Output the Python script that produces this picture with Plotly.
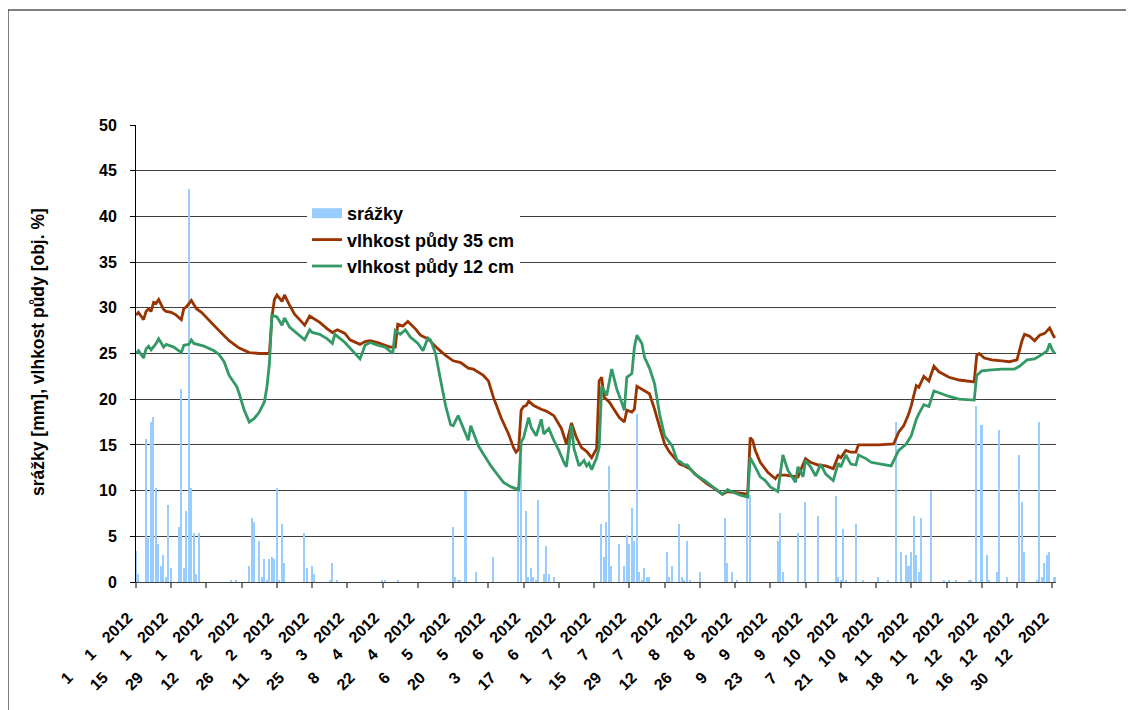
import datetime as dt
import plotly.graph_objects as go

# ---------------- data ----------------
# day index: 0 = 1 Jan 2012
rain_days = [0, 1, 4, 5, 6, 7, 8, 9, 10, 11, 12, 13, 14, 17, 18, 19, 20, 21, 22, 23, 24, 25,
             38, 40, 45, 46, 47, 49, 50, 51, 52, 53, 54, 55, 56, 57, 58, 59,
             67, 68, 70, 71, 77, 78, 80, 98, 99, 104,
             126, 127, 128, 129, 131, 135, 142, 152, 153, 155, 156, 157, 158, 159, 160, 162, 163, 164, 166,
             185, 186, 187, 188, 189, 192, 194, 195, 196, 197, 198, 199, 200, 201, 202, 203, 204,
             211, 212, 213, 216, 217, 218, 219, 220, 224, 234, 235, 237, 239, 243, 244,
             255, 256, 257, 263, 266, 271, 278, 279, 280, 281, 282, 286, 289, 295, 299,
             302, 304, 306, 307, 308, 309, 310, 311, 312, 316, 321, 323, 326, 331, 332,
             334, 336, 338, 339, 342, 343, 346, 351, 352, 353, 358, 359, 360, 361, 362, 363, 365]
rain_mm = [3.4, 0.9, 15.6, 4.8, 17.5, 18.0, 10.3, 4.2, 1.8, 3.0, 0.6, 8.4, 1.5, 6.0, 21.1, 1.5, 7.8, 43.0, 10.3, 5.4, 0.9, 5.4,
           0.25, 0.25, 1.8, 7.0, 6.6, 4.5, 0.6, 2.5, 0.25, 2.5, 2.7, 2.5, 10.3, 0.25, 6.3, 2.1,
           5.4, 1.5, 1.8, 0.9, 0.25, 2.1, 0.25, 0.25, 0.25, 0.25,
           6.0, 0.6, 0.25, 0.25, 10.0, 1.1, 2.7, 10.5, 13.5, 7.8, 0.6, 1.5, 0.6, 0.25, 9.0, 0.9, 3.9, 0.9, 0.6,
           6.3, 2.7, 6.6, 12.7, 1.8, 4.2, 1.8, 5.1, 4.2, 8.1, 4.5, 18.4, 1.1, 0.25, 1.5, 0.6, 0.6,
           3.3, 0.6, 1.8, 6.3, 0.6, 0.25, 4.5, 0.25, 1.1, 7.0, 2.1, 1.1, 0.25, 9.9, 9.5,
           4.5, 7.5, 1.1, 5.4, 8.7, 7.2, 9.4, 0.6, 0.25, 5.8, 0.25, 6.3, 0.25, 0.6, 0.25,
           17.5, 3.3, 3.0, 1.8, 3.3, 7.2, 3.0, 1.1, 7.0, 10.0, 0.25, 0.25, 0.25, 0.25, 0.25,
           19.3, 17.2, 3.0, 0.25, 1.1, 16.6, 0.6, 13.9, 8.7, 3.3, 0.25, 17.5, 0.6, 2.1, 3.0, 3.3, 0.6]

soil35_days = [0, 1, 3, 4, 5, 6, 7, 8, 9, 11, 12, 14, 16, 18, 19, 20, 22, 23, 24, 26, 29, 33, 37, 41, 45, 49,
               53, 54, 55, 56, 58, 59, 61, 63, 66, 67, 69, 70, 73, 76, 78, 80, 83, 85, 89, 91, 93, 96, 101,
               103, 104, 106, 108, 111, 113, 116, 120, 123, 126, 129, 132, 134, 138, 140, 142, 145, 148, 150,
               151, 152, 153, 154, 155, 156, 158, 161, 163, 166, 169, 171, 173, 175, 177, 179, 181, 183, 184,
               185, 186, 188, 190, 192, 194, 195, 197, 198, 199, 201, 204, 206, 208, 210, 212, 214, 216, 218,
               220, 223, 227, 230, 233, 235, 238, 242, 243, 244, 245, 246, 248, 251, 254, 255, 258, 260, 263,
               264, 266, 268, 271, 274, 277, 279, 280, 282, 284, 286, 287, 291, 295, 301, 303, 305, 307, 308,
               310, 311, 313, 315, 317, 319, 323, 327, 331, 333, 334, 335, 337, 340, 344, 347, 350, 352, 353,
               355, 357, 359, 361, 363, 364, 365]
soil35_val = [29.2, 29.5, 28.7, 29.6, 29.9, 29.6, 30.6, 30.5, 30.9, 29.8, 29.6, 29.5, 29.2, 28.7, 29.9, 30.1, 30.8,
              30.4, 29.9, 29.5, 28.6, 27.5, 26.4, 25.6, 25.1, 25.0,
              25.0, 29.0, 30.9, 31.4, 30.7, 31.4, 30.3, 29.3, 28.4, 28.1, 29.1, 28.9, 28.4, 27.7, 27.3, 27.6,
              27.2, 26.5, 26.0, 26.3, 26.4, 26.2, 25.7,
              25.7, 28.2, 28.0, 28.5, 27.7, 27.0, 26.6, 25.5, 24.8, 24.2, 24.0, 23.4, 23.3, 22.6, 22.0, 20.2,
              18.0, 16.2, 14.7,
              14.2, 14.5, 18.8, 19.2, 19.3, 19.8, 19.3, 18.9, 18.7, 18.2, 16.8, 15.1, 17.4, 15.8, 14.7, 14.3,
              13.6, 14.6, 22.0,
              22.4, 20.2, 19.7, 18.9, 18.0, 17.5, 18.8, 18.6, 18.9, 21.4, 21.1, 20.6, 18.9, 16.9, 15.1, 14.2,
              13.6, 12.9, 12.7,
              12.4, 11.6, 10.7, 10.2, 9.6, 9.9, 9.8, 9.7, 9.6, 15.8, 15.5, 14.4, 13.1, 12.0, 11.3, 11.7, 11.7,
              11.6, 11.5,
              12.2, 13.5, 13.1, 12.8, 12.7, 12.4, 13.8, 13.6, 14.4, 14.2, 14.2, 15.0, 15.0, 15.0, 15.1, 16.4,
              17.1, 18.4, 19.3,
              21.5, 21.3, 22.5, 22.0, 23.6, 23.0, 22.4, 22.1, 22.0, 21.9, 24.8, 25.0, 24.5, 24.3, 24.2, 24.1,
              24.3, 26.4, 27.1,
              26.9, 26.4, 27.0, 27.2, 27.8, 27.2, 26.7]

soil12_days = [0, 1, 3, 4, 5, 6, 8, 9, 11, 12, 15, 18, 19, 21, 22, 23, 27, 31, 33, 35, 37, 40, 41, 43, 45, 47,
               49, 51, 52, 53, 54, 56, 58, 59, 61, 64, 67, 69, 70, 73, 76, 78, 79, 83, 86, 89, 91, 93, 96, 99,
               102, 103, 105, 107, 109, 112, 114, 116, 117, 119, 121, 123, 125, 126, 128, 130, 132, 133, 136,
               138, 141, 144, 146, 149, 152, 153, 154, 156, 157, 159, 161, 162, 164, 166, 168, 170, 171, 173,
               174, 176, 178, 179, 180, 181, 183, 184, 185, 186, 187, 189, 191, 193, 194, 195, 197, 198, 199,
               201, 202, 204, 206, 208, 210, 213, 215, 216, 218, 219, 222, 226, 230, 233, 235, 238, 240, 243,
               244, 246, 248, 250, 252, 255, 257, 259, 262, 263, 265, 266, 268, 270, 272, 274, 277, 279, 280,
               282, 284, 286, 287, 290, 292, 296, 300, 303, 306, 308, 310, 311, 313, 315, 317, 319, 323, 327,
               331, 333, 334, 336, 340, 344, 349, 351, 354, 357, 360, 362, 363, 364, 365]
soil12_val = [25.0, 25.3, 24.5, 25.5, 25.8, 25.4, 26.1, 26.6, 25.7, 26.0, 25.7, 25.1, 25.9, 26.0, 26.5, 26.1, 25.8,
              25.3, 24.9, 24.1, 22.6, 21.4, 20.6, 18.8, 17.5, 17.9,
              18.6, 19.7, 21.3, 23.9, 29.2, 29.0, 28.1, 28.9, 27.9, 27.2, 26.5, 27.6, 27.3, 27.1, 26.6, 26.1,
              27.1, 26.2, 25.3, 24.4, 25.9, 26.2, 25.9, 25.7,
              25.0, 27.5, 27.1, 27.6, 26.8, 26.1, 25.3, 26.7, 26.5, 25.0, 22.1, 19.3, 17.2, 17.1, 18.2, 16.9,
              15.5, 17.1, 14.9,
              14.0, 12.7, 11.6, 10.9, 10.4, 10.1, 15.3, 15.8, 18.0, 16.9, 16.0, 17.8, 16.2, 16.8, 15.5, 14.4,
              13.1, 12.6, 17.1,
              14.6, 12.7, 13.3, 12.7, 13.0, 12.3, 13.6, 14.7, 21.4, 20.9, 20.4, 23.3, 21.1, 19.6, 18.8, 22.4,
              22.8, 25.7, 27.0,
              26.1, 24.6, 23.4, 21.7, 18.4, 16.0, 14.9, 13.3, 13.2, 12.8, 12.8, 11.8, 11.1, 10.3, 9.6, 10.1,
              9.7, 9.5, 9.3,
              13.6, 12.6, 11.5, 11.1, 10.4, 9.9, 13.9, 12.2, 10.9, 12.6, 11.5, 13.3, 12.6, 11.6, 12.9, 11.8,
              11.1, 13.0, 12.6,
              13.9, 12.9, 12.8, 13.9, 13.5, 13.1, 12.9, 12.7, 14.4, 15.1, 16.0, 17.8, 18.4, 19.4, 19.2, 20.9,
              20.7, 20.3, 20.0,
              19.9, 19.9, 22.6, 23.1, 23.2, 23.3, 23.3, 23.6, 24.3, 24.4, 24.9, 25.3, 26.1, 25.4, 25.0]

start = dt.date(2012, 1, 1)
tick_days = list(range(0, 366, 14))
EN = "\u2002"  # en space (digit padding)
EM = "\u2003"  # em space (field separator)


def pad(n):
    return (EN if n < 10 else "") + str(n)


tick_labels = []
for d in tick_days:
    date = start + dt.timedelta(days=d)
    tick_labels.append(pad(date.day) + EM + pad(date.month) + EM + "2012")

y_ticks = list(range(0, 51, 5))

# ---------------- figure ----------------
# page body has an 8px margin -> figure is 8px smaller and coordinates shifted
W, H = 1126, 702
L, R, T, B = 128, 78, 117, 128
pw = W - L - R
ph = H - T - B


def px(X):  # screen x -> paper
    return (X - 8 - L) / pw


def py(Y):  # screen y -> paper
    return (H - B - (Y - 8)) / ph


fig = go.Figure()
fig.add_trace(go.Bar(
    x=rain_days, y=rain_mm, name="srážky",
    marker=dict(color="#99CCFF", line=dict(width=0)),
    width=0.6, showlegend=False,
))
# legend proxy for precipitation (wide rectangle swatch, draws nothing)
fig.add_trace(go.Scatter(
    x=[None], y=[None], name="srážky", mode="lines",
    line=dict(color="#99CCFF", width=12), legendgroup="a",
))
fig.add_trace(go.Scatter(
    x=soil35_days, y=soil35_val, name="vlhkost půdy 35 cm", mode="lines",
    line=dict(color="#993300", width=2.8), legendgroup="b",
))
fig.add_trace(go.Scatter(
    x=soil12_days, y=soil12_val, name="vlhkost půdy 12 cm", mode="lines",
    line=dict(color="#339966", width=2.8), legendgroup="c",
))

font_family = "Arial, Liberation Sans, sans-serif"

fig.update_layout(
    width=W, height=H,
    margin=dict(l=L, r=R, t=T, b=B, autoexpand=False),
    paper_bgcolor="white", plot_bgcolor="white",
    font=dict(family=font_family, color="black"),
    showlegend=True,
    bargap=0,
    legend=dict(
        x=px(307), y=py(195), xanchor="left", yanchor="top",
        bgcolor="white", borderwidth=0,
        font=dict(size=18, family=font_family, weight="bold", color="black"),
        traceorder="grouped", tracegroupgap=0,
        itemwidth=30,
    ),
    xaxis=dict(
        range=[0, 365.5],
        tickmode="array", tickvals=tick_days, ticktext=tick_labels,
        tickangle=-45,
        tickfont=dict(size=16, family=font_family, weight="bold", color="black"),
        ticks="outside", ticklen=5, tickcolor="#808080", tickwidth=2,
        showline=True, linecolor="#404040", linewidth=1,
        showgrid=False, zeroline=False,
        ticklabelstandoff=14, ticklabelshift=-8,
    ),
    yaxis=dict(
        range=[0, 50],
        tickmode="array", tickvals=y_ticks,
        tickfont=dict(size=16, family=font_family, weight="bold", color="black"),
        ticks="outside", ticklen=5, tickcolor="black",
        showline=True, linecolor="black", linewidth=1,
        showgrid=True, gridcolor="#404040", gridwidth=1,
        zeroline=False,
        ticklabelstandoff=10,
    ),
)

# y-axis title
fig.add_annotation(
    text="srážky [mm], vlhkost půdy [obj. %]",
    xref="paper", yref="paper",
    x=px(38), y=py(352),
    xanchor="center", yanchor="middle",
    textangle=-90, showarrow=False,
    font=dict(size=17.5, family=font_family, weight="bold", color="black"),
)

# outer chart frame
fig.add_shape(
    type="rect", xref="paper", yref="paper",
    x0=px(8), x1=px(1127),
    y0=py(720), y1=py(10),
    line=dict(color="black", width=1), fillcolor="rgba(0,0,0,0)",
    layer="below",
)

fig.write_html("out.html")
